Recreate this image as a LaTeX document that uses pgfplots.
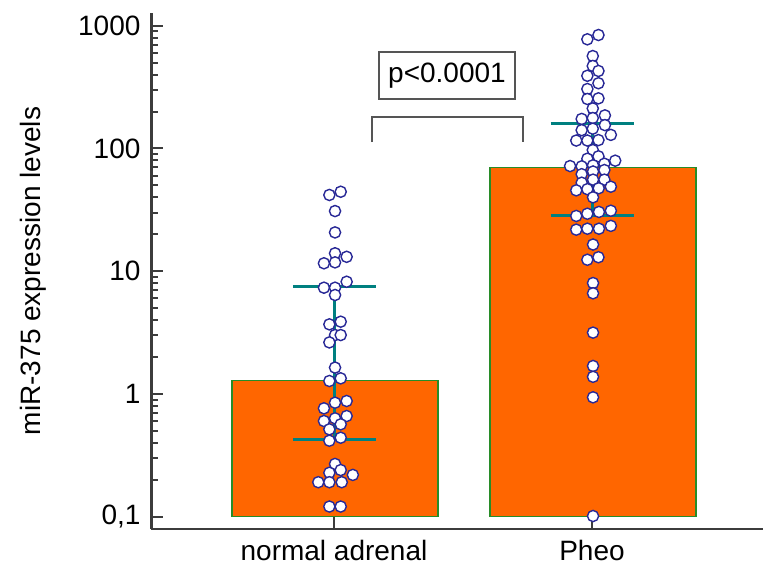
\documentclass[border=0pt]{standalone}
\usepackage{fontspec}
\setmainfont{Liberation Sans}
\usepackage{pgfplots}
\usepackage{pgfplotstable}
\pgfplotsset{compat=1.18}

\definecolor{barorange}{RGB}{255,102,0}
\definecolor{barline}{RGB}{40,140,40}
\definecolor{sdteal}{RGB}{0,128,128}
\definecolor{dotblue}{RGB}{40,40,150}
\definecolor{axgray}{RGB}{60,60,60}
\definecolor{brgray}{RGB}{85,85,85}

% normal adrenal, one row per dot
\pgfplotstableread{
x y
0.982 41.8
1.026 44.4
1.004 30.9
1.004 20.7
1.004 14.0
1.049 13.1
0.961 11.6
1.004 11.8
1.049 8.21
0.961 7.34
1.004 7.34
1.004 6.40
0.982 3.69
1.026 3.88
1.004 3.02
1.026 3.02
0.982 2.63
1.004 1.64
0.982 1.275
1.026 1.34
0.961 0.764
1.004 0.849
1.049 0.876
0.961 0.602
1.004 0.633
1.049 0.661
1.026 0.566
0.982 0.515
0.982 0.416
1.026 0.440
1.004 0.269
0.982 0.228
1.026 0.240
1.073 0.219
0.939 0.191
0.982 0.191
1.030 0.191
0.982 0.121
1.026 0.121
}\normaltab

% Pheo
\pgfplotstableread{
x y
1.982 775
2.025 840
2.003 566
2.003 470
2.025 428
1.982 391
2.025 340
1.982 305
1.982 253
2.025 256
2.003 212
1.960 174
2.003 177
2.050 186
1.960 141
2.003 145
2.050 155
1.939 116
1.982 116
2.025 117
2.073 129
2.003 97.1
1.982 82.5
2.025 86.3
2.090 79.5
1.915 71.9
1.960 71.5
2.004 72.9
2.048 75.1
1.960 61.7
2.004 64.9
2.048 66.7
1.960 52.6
2.004 55.7
2.048 55.7
2.073 48.8
1.939 45.6
1.982 46.6
2.026 47.4
2.004 40.0
1.939 28.2
1.982 29.4
2.027 30.4
2.073 31.1
1.939 21.8
1.982 22.2
2.027 22.2
2.073 23.4
2.004 16.5
1.982 12.4
2.025 13.0
2.004 8.01
2.004 6.61
2.004 3.16
2.004 1.69
2.004 1.38
2.004 0.939
2.004 0.1013
}\pheotab

\begin{document}
\begin{tikzpicture}[font=\fontsize{14}{17}\selectfont]
\begin{axis}[
  at={(0,0)}, anchor=south west,
  scale only axis,
  width=305.75pt, height=258pt,
  ymode=log,
  xmin=0.2926, xmax=2.6628,
  ymin=0.0794, ymax=1269,
  axis x line=bottom, axis y line=left,
  axis line style={-, line width=1.2pt, color=axgray},
  tick align=inside,
  xtick={1,2},
  xticklabels={normal adrenal, Pheo},
  xtick style={draw=none},
  xticklabel style={yshift=-2pt},
  ytick={0.1,1,10,100,1000},
  yticklabels={{0,1},1,10,100,1000},
  minor ytick={0.2,0.3,0.4,0.5,0.6,0.7,0.8,0.9,2,3,4,5,6,7,8,9,20,30,40,50,60,70,80,90,200,300,400,500,600,700,800,900},
  ytick style={line width=1pt, color=axgray},
  major tick length=5.5pt,
  minor tick length=3.5pt,
  yticklabel style={xshift=-2pt},
  ylabel={miR-375 expression levels},
  every axis y label/.style={at={(axis description cs:-0.1938,0.5)}, rotate=90, anchor=center},
  clip=false,
]
% bars
\addplot[fill=barorange, draw=barline, line width=0.6pt] coordinates {(0.605,0.1)(0.605,1.28)(1.403,1.28)(1.403,0.1)} -- cycle;
\addplot[fill=barorange, draw=barline, line width=0.6pt] coordinates {(1.605,0.1)(1.605,70.2)(2.403,70.2)(2.403,0.1)} -- cycle;
% x ticks, from the axis up to the bar base
\addplot[axgray, line width=1pt] coordinates {(1,0.0794)(1,0.1)};
\addplot[axgray, line width=1pt] coordinates {(2,0.0794)(2,0.1)};
% spread lines
\addplot[sdteal, line width=1.5pt] coordinates {(1,0.427)(1,7.48)};
\addplot[sdteal, line width=1.5pt] coordinates {(0.841,7.48)(1.163,7.48)};
\addplot[sdteal, line width=1.5pt] coordinates {(0.841,0.427)(1.163,0.427)};
\addplot[sdteal, line width=1.5pt] coordinates {(2,28.7)(2,160.3)};
\addplot[sdteal, line width=1.5pt] coordinates {(1.84,160.3)(2.163,160.3)};
\addplot[sdteal, line width=1.5pt] coordinates {(1.84,28.7)(2.163,28.7)};
% dots
\addplot[only marks, mark=*, mark size=2.8pt, mark options={fill=white, draw=dotblue, line width=0.7pt}] table {\normaltab};
\addplot[only marks, mark=*, mark size=2.8pt, mark options={fill=white, draw=dotblue, line width=0.7pt}] table {\pheotab};
% significance bracket
\addplot[brgray, line width=0.8pt] coordinates {(1.147,112.6)(1.147,179.6)(1.733,179.6)(1.733,112.6)};
\node[draw=brgray, line width=0.8pt, fill=white, minimum width=68pt, minimum height=23.5pt, inner sep=0pt] at (axis cs:1.438,392.7) {p<0.0001};
\end{axis}
\pgfresetboundingbox
\path (-75.75pt,-20pt) rectangle (307.25pt,264.5pt);
\end{tikzpicture}
\end{document}
